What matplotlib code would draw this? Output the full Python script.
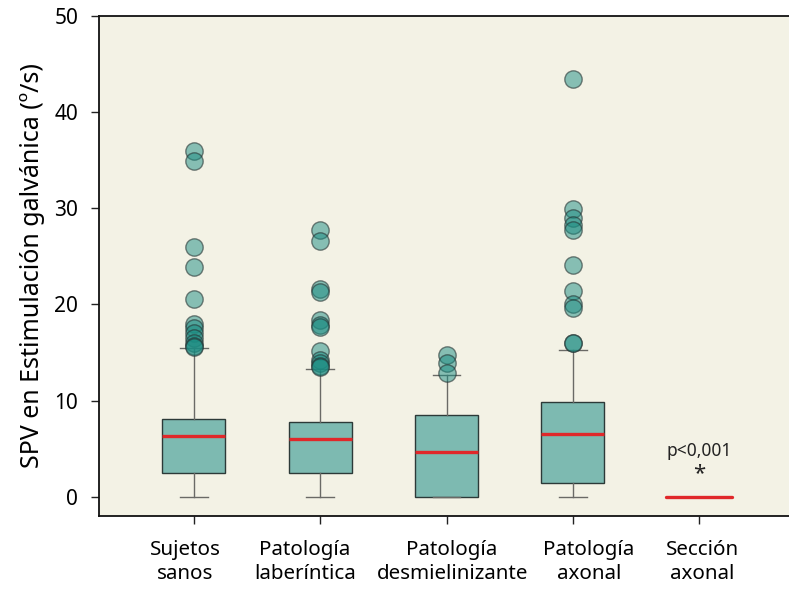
import matplotlib
matplotlib.use("Agg")
import matplotlib.pyplot as plt

plt.rcParams['font.family'] = ['Noto Sans', 'DejaVu Sans']

categories = ["Sujetos\nsanos", "Patología\nlaberíntica", "Patología\ndesmielinizante",
              "Patología\naxonal", "Sección\naxonal"]
whislo = [0.0, 0.0, 0.0, 0.0]
q1 = [2.5, 2.5, 0.0, 1.4]
med = [6.3, 6.0, 4.6, 6.5]
q3 = [8.1, 7.8, 8.45, 9.9]
whishi = [15.5, 13.3, 12.65, 15.3]
fliers = [
    [36.0, 34.9, 26.0, 23.9, 20.6, 18.0, 17.5, 17.0, 16.5, 16.0, 15.7, 15.6],
    [27.7, 26.6, 21.6, 21.3, 18.4, 17.9, 17.7, 15.2, 14.2, 13.9, 13.6, 13.5],
    [14.7, 13.9, 12.9],
    [43.4, 29.9, 29.0, 28.3, 27.7, 24.1, 21.4, 20.0, 19.6, 16.0, 16.0],
]
median_seccion = 0.0
annot_text = "p<0,001"

# horizontal nudges (points) of the category labels as laid out in the original
label_nudge_pt = [-6, -11, 4, 11.5, 2]

fig = plt.figure(figsize=(7.89, 5.89), dpi=100)
ax = fig.add_axes([0.1255, 0.124, 0.8745, 0.849])
ax.set_facecolor('#f3f2e5')

stats = []
for i in range(4):
    stats.append(dict(whislo=whislo[i], q1=q1[i], med=med[i], q3=q3[i],
                      whishi=whishi[i], fliers=fliers[i]))

ax.bxp(stats, positions=[1, 2, 3, 4], widths=0.5, capwidths=0.22,
       patch_artist=True,
       boxprops=dict(facecolor='#7dbab1', edgecolor='#2c3a38', linewidth=1.0),
       medianprops=dict(color='#e0282a', linewidth=2.4),
       whiskerprops=dict(color='#6a6a66', linewidth=1.0),
       capprops=dict(color='#6a6a66', linewidth=1.0),
       flierprops=dict(marker='o', markersize=12.5, markerfacecolor=(0.10, 0.55, 0.51, 0.5),
                       markeredgecolor=(0.15, 0.2, 0.2, 0.6), markeredgewidth=1.0,
                       linestyle='none'))

ax.plot([5 - 0.26, 5 + 0.26], [median_seccion, median_seccion], color='#e0282a',
        linewidth=2.4, solid_capstyle='round')
ax.text(5, 4.8, annot_text, ha='center', va='center', fontsize=12.5, color='#222222')
ax.text(5, 2.4, "*", ha='center', va='center', fontsize=16, color='#222222')

ax.set_xlim(0.25, 5.71)
ax.set_ylim(-2.0, 50)
positions = [1, 2, 3, 4, 5]
ax.set_xticks(positions)
ax.set_xticklabels([''] * len(positions))
for pos, lab, dx in zip(positions, categories, label_nudge_pt):
    ax.annotate(lab, xy=(pos, 0), xycoords=('data', 'axes fraction'),
                xytext=(dx, -17), textcoords='offset points',
                ha='center', va='top', fontsize=14.8, linespacing=1.3,
                annotation_clip=False)
ax.set_yticks([0, 10, 20, 30, 40, 50])
ax.set_yticklabels(['0', '10', '20', '30', '40', '50'], fontsize=15)
ax.tick_params(axis='both', direction='out', length=6, width=1.0, color='#222222')
ax.tick_params(axis='y', pad=9)
ax.set_ylabel("SPV en Estimulación galvánica (º/s)", fontsize=18, labelpad=7)

for s in ['left', 'bottom', 'top']:
    ax.spines[s].set_color('#111111')
    ax.spines[s].set_linewidth(1.3)
ax.spines['right'].set_visible(False)

fig.savefig('out.png', dpi=100)
